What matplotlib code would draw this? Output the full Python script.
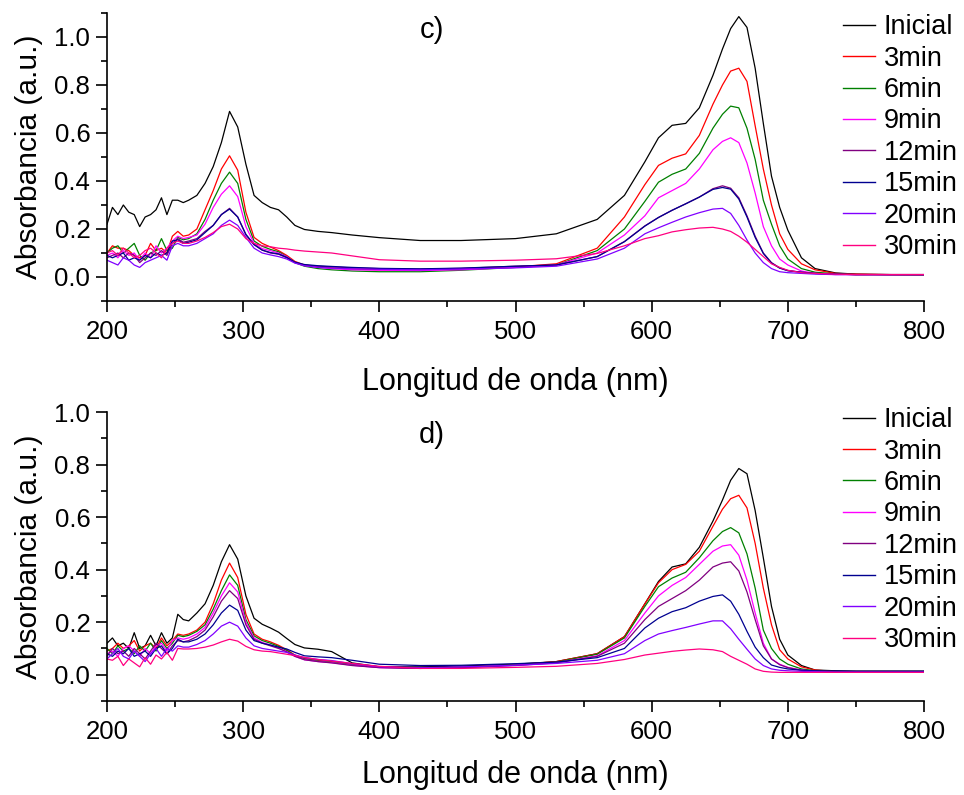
import matplotlib
matplotlib.use("Agg")
import matplotlib.pyplot as plt
from matplotlib.ticker import MultipleLocator

plt.rcParams['font.family'] = ['Liberation Sans', 'DejaVu Sans']

wl = [200, 204, 208, 212, 216, 220, 224, 228, 232, 236, 240, 244, 248,
      252, 256, 260, 266, 272, 278, 284, 290, 296, 302, 308, 314, 320, 326, 332, 338,
      345, 355, 365, 380, 400, 430, 460, 500, 530, 560, 580, 595,
      605, 615, 625, 635, 645, 652, 658, 664, 670, 676, 682, 688, 694, 700,
      710, 720, 735, 750, 775, 800]

labels = ["Inicial", "3min", "6min", "9min", "12min", "15min", "20min", "30min"]
colors = ["#000000", "#ff0000", "#008000", "#ff00ff", "#800080", "#000090", "#8000ff", "#ff0080"]

# ---- panel c) ----
c_inicial = [0.22, 0.29, 0.26, 0.30, 0.27, 0.26, 0.21, 0.25, 0.26, 0.28, 0.33, 0.26, 0.32,
             0.32, 0.31, 0.32, 0.34, 0.39, 0.46, 0.56, 0.69, 0.625, 0.47, 0.34, 0.31, 0.29, 0.28, 0.25, 0.215,
             0.198, 0.19, 0.185, 0.175, 0.164, 0.152, 0.152, 0.16, 0.18, 0.24, 0.34, 0.48,
             0.58, 0.632, 0.64, 0.705, 0.84, 0.95, 1.035, 1.085, 1.04, 0.87, 0.64, 0.42, 0.29, 0.195,
             0.08, 0.035, 0.017, 0.012, 0.01, 0.01]
c_3min = [0.10, 0.13, 0.12, 0.12, 0.11, 0.09, 0.08, 0.09, 0.14, 0.11, 0.12, 0.10, 0.17,
          0.19, 0.17, 0.175, 0.20, 0.28, 0.36, 0.45, 0.505, 0.445, 0.27, 0.165, 0.14, 0.125, 0.11, 0.09, 0.065,
          0.05, 0.042, 0.038, 0.033, 0.03, 0.03, 0.033, 0.042, 0.055, 0.12, 0.25, 0.385,
          0.465, 0.495, 0.513, 0.59, 0.72, 0.80, 0.858, 0.87, 0.815, 0.63, 0.45, 0.30, 0.18, 0.115,
          0.055, 0.03, 0.015, 0.012, 0.01, 0.01]
c_6min = [0.10, 0.12, 0.13, 0.10, 0.12, 0.14, 0.09, 0.07, 0.10, 0.11, 0.16, 0.11, 0.12,
          0.165, 0.155, 0.16, 0.18, 0.24, 0.32, 0.39, 0.437, 0.39, 0.24, 0.15, 0.128, 0.115, 0.105, 0.085, 0.06,
          0.045, 0.035, 0.03, 0.025, 0.022, 0.022, 0.028, 0.04, 0.05, 0.11, 0.20, 0.315,
          0.395, 0.428, 0.45, 0.515, 0.62, 0.678, 0.712, 0.705, 0.62, 0.49, 0.32, 0.22, 0.13, 0.075,
          0.035, 0.02, 0.013, 0.01, 0.01, 0.008]
c_9min = [0.09, 0.10, 0.08, 0.11, 0.09, 0.10, 0.07, 0.10, 0.08, 0.13, 0.10, 0.12, 0.15,
          0.17, 0.16, 0.165, 0.175, 0.22, 0.29, 0.345, 0.38, 0.335, 0.21, 0.14, 0.118, 0.11, 0.10, 0.085, 0.06,
          0.048, 0.04, 0.035, 0.03, 0.028, 0.027, 0.03, 0.04, 0.05, 0.10, 0.175, 0.255,
          0.33, 0.36, 0.39, 0.45, 0.53, 0.565, 0.58, 0.56, 0.475, 0.35, 0.21, 0.13, 0.075, 0.05,
          0.025, 0.015, 0.01, 0.01, 0.01, 0.01]
c_12min = [0.08, 0.09, 0.10, 0.08, 0.10, 0.09, 0.06, 0.08, 0.10, 0.09, 0.11, 0.09, 0.14,
           0.16, 0.145, 0.15, 0.16, 0.19, 0.215, 0.26, 0.286, 0.25, 0.175, 0.135, 0.112, 0.10, 0.095, 0.08, 0.06,
           0.05, 0.045, 0.042, 0.038, 0.035, 0.033, 0.036, 0.045, 0.05, 0.085, 0.148, 0.213,
           0.248, 0.278, 0.305, 0.333, 0.368, 0.38, 0.37, 0.33, 0.255, 0.17, 0.10, 0.06, 0.038, 0.027,
           0.02, 0.015, 0.012, 0.01, 0.01, 0.01]
c_15min = [0.09, 0.08, 0.09, 0.10, 0.07, 0.08, 0.07, 0.09, 0.08, 0.10, 0.09, 0.10, 0.15,
           0.155, 0.14, 0.145, 0.155, 0.185, 0.215, 0.26, 0.283, 0.25, 0.178, 0.135, 0.112, 0.102, 0.096, 0.082, 0.062,
           0.052, 0.047, 0.044, 0.04, 0.036, 0.034, 0.037, 0.045, 0.05, 0.085, 0.147, 0.212,
           0.248, 0.278, 0.305, 0.333, 0.365, 0.373, 0.366, 0.325, 0.25, 0.165, 0.098, 0.058, 0.037, 0.026,
           0.02, 0.015, 0.012, 0.01, 0.01, 0.01]
c_20min = [0.07, 0.06, 0.05, 0.08, 0.07, 0.05, 0.04, 0.06, 0.07, 0.08, 0.09, 0.07, 0.13,
           0.14, 0.13, 0.13, 0.14, 0.16, 0.18, 0.215, 0.237, 0.215, 0.165, 0.12, 0.10, 0.092, 0.085, 0.075, 0.058,
           0.047, 0.04, 0.037, 0.034, 0.032, 0.03, 0.033, 0.038, 0.045, 0.075, 0.12, 0.18,
           0.205, 0.228, 0.25, 0.268, 0.283, 0.286, 0.265, 0.215, 0.154, 0.10, 0.06, 0.035, 0.022, 0.018,
           0.015, 0.012, 0.01, 0.01, 0.01, 0.01]
c_30min = [0.10, 0.11, 0.09, 0.12, 0.10, 0.08, 0.09, 0.11, 0.12, 0.10, 0.08, 0.12, 0.14,
           0.15, 0.14, 0.14, 0.15, 0.165, 0.185, 0.21, 0.22, 0.20, 0.16, 0.14, 0.13, 0.126, 0.12, 0.117, 0.112,
           0.108, 0.104, 0.10, 0.088, 0.072, 0.066, 0.066, 0.07, 0.076, 0.098, 0.13, 0.16,
           0.172, 0.188, 0.197, 0.204, 0.207, 0.20, 0.19, 0.17, 0.145, 0.115, 0.085, 0.055, 0.04, 0.028,
           0.018, 0.015, 0.012, 0.01, 0.01, 0.01]

# ---- panel d) ----
d_inicial = [0.12, 0.14, 0.11, 0.12, 0.10, 0.16, 0.10, 0.11, 0.15, 0.11, 0.16, 0.12, 0.14,
             0.23, 0.21, 0.205, 0.235, 0.27, 0.34, 0.43, 0.495, 0.44, 0.30, 0.215, 0.192, 0.178, 0.162, 0.138, 0.115,
             0.102, 0.097, 0.088, 0.045, 0.03, 0.03, 0.033, 0.04, 0.05, 0.08, 0.145, 0.27,
             0.355, 0.41, 0.422, 0.485, 0.585, 0.665, 0.74, 0.785, 0.765, 0.625, 0.445, 0.26, 0.135, 0.075,
             0.035, 0.018, 0.015, 0.014, 0.014, 0.014]
d_3min = [0.09, 0.10, 0.12, 0.10, 0.11, 0.13, 0.09, 0.11, 0.12, 0.10, 0.14, 0.11, 0.13,
          0.155, 0.15, 0.155, 0.17, 0.20, 0.27, 0.36, 0.425, 0.37, 0.23, 0.155, 0.135, 0.125, 0.112, 0.095, 0.075,
          0.062, 0.055, 0.05, 0.04, 0.03, 0.025, 0.028, 0.038, 0.05, 0.08, 0.145, 0.27,
          0.35, 0.40, 0.42, 0.47, 0.565, 0.63, 0.67, 0.683, 0.635, 0.50, 0.33, 0.19, 0.095, 0.06,
          0.03, 0.018, 0.012, 0.01, 0.01, 0.01]
d_6min = [0.10, 0.08, 0.11, 0.09, 0.10, 0.08, 0.11, 0.09, 0.12, 0.09, 0.13, 0.10, 0.12,
          0.15, 0.145, 0.15, 0.165, 0.19, 0.25, 0.32, 0.38, 0.34, 0.21, 0.148, 0.13, 0.12, 0.108, 0.092, 0.073,
          0.06, 0.052, 0.048, 0.038, 0.028, 0.025, 0.028, 0.038, 0.048, 0.078, 0.14, 0.26,
          0.335, 0.368, 0.39, 0.445, 0.51, 0.545, 0.56, 0.54, 0.46, 0.33, 0.17, 0.10, 0.06, 0.04,
          0.022, 0.015, 0.012, 0.01, 0.01, 0.01]
d_9min = [0.08, 0.09, 0.07, 0.10, 0.11, 0.09, 0.07, 0.10, 0.08, 0.11, 0.12, 0.09, 0.13,
          0.14, 0.135, 0.14, 0.155, 0.18, 0.235, 0.30, 0.35, 0.315, 0.20, 0.14, 0.123, 0.113, 0.102, 0.088, 0.07,
          0.057, 0.05, 0.046, 0.036, 0.027, 0.024, 0.027, 0.036, 0.046, 0.072, 0.13, 0.235,
          0.30, 0.34, 0.37, 0.42, 0.47, 0.49, 0.495, 0.455, 0.36, 0.235, 0.12, 0.06, 0.04, 0.028,
          0.018, 0.013, 0.01, 0.01, 0.01, 0.01]
d_12min = [0.07, 0.10, 0.08, 0.09, 0.07, 0.10, 0.08, 0.06, 0.09, 0.12, 0.10, 0.08, 0.11,
           0.13, 0.125, 0.13, 0.145, 0.17, 0.22, 0.28, 0.32, 0.29, 0.19, 0.135, 0.12, 0.11, 0.10, 0.087, 0.07,
           0.057, 0.05, 0.045, 0.035, 0.027, 0.024, 0.027, 0.035, 0.045, 0.07, 0.12, 0.21,
           0.26, 0.29, 0.32, 0.36, 0.41, 0.425, 0.43, 0.395, 0.315, 0.21, 0.11, 0.06, 0.038, 0.027,
           0.017, 0.013, 0.01, 0.01, 0.01, 0.01]
d_15min = [0.08, 0.07, 0.09, 0.08, 0.10, 0.07, 0.08, 0.09, 0.07, 0.10, 0.11, 0.08, 0.10,
           0.135, 0.125, 0.125, 0.135, 0.155, 0.19, 0.235, 0.265, 0.245, 0.17, 0.13, 0.12, 0.113, 0.105, 0.098, 0.085,
           0.072, 0.068, 0.065, 0.055, 0.04, 0.035, 0.036, 0.042, 0.048, 0.065, 0.10, 0.178,
           0.215, 0.24, 0.255, 0.28, 0.298, 0.304, 0.28, 0.23, 0.165, 0.105, 0.065, 0.037, 0.028, 0.022,
           0.017, 0.015, 0.014, 0.013, 0.013, 0.013]
d_20min = [0.06, 0.08, 0.10, 0.07, 0.06, 0.09, 0.07, 0.05, 0.08, 0.10, 0.07, 0.10, 0.09,
           0.11, 0.105, 0.105, 0.115, 0.13, 0.155, 0.185, 0.20, 0.185, 0.14, 0.11, 0.10, 0.095, 0.09, 0.085, 0.075,
           0.065, 0.058, 0.054, 0.042, 0.03, 0.027, 0.03, 0.036, 0.043, 0.055, 0.08, 0.13,
           0.155, 0.168, 0.18, 0.193, 0.205, 0.205, 0.175, 0.135, 0.097, 0.06, 0.035, 0.022, 0.017, 0.015,
           0.013, 0.012, 0.01, 0.01, 0.01, 0.01]
d_30min = [0.06, 0.055, 0.07, 0.035, 0.06, 0.045, 0.03, 0.065, 0.04, 0.075, 0.06, 0.085, 0.055,
           0.10, 0.098, 0.098, 0.10, 0.105, 0.113, 0.125, 0.135, 0.128, 0.108, 0.095, 0.09, 0.088, 0.083, 0.078, 0.073,
           0.066, 0.058, 0.052, 0.043, 0.032, 0.024, 0.024, 0.028, 0.032, 0.043, 0.058, 0.075,
           0.082, 0.089, 0.094, 0.098, 0.095, 0.088, 0.07, 0.055, 0.04, 0.022, 0.013, 0.01, 0.009, 0.009,
           0.009, 0.009, 0.009, 0.009, 0.009, 0.009]

panel_c = [c_inicial, c_3min, c_6min, c_9min, c_12min, c_15min, c_20min, c_30min]
panel_d = [d_inicial, d_3min, d_6min, d_9min, d_12min, d_15min, d_20min, d_30min]

fig = plt.figure(figsize=(9.64, 7.95), dpi=100)
ax_c = fig.add_axes([107/964, 1 - 301/795, 817/964, 288/795])
ax_d = fig.add_axes([107/964, 1 - 701/795, 817/964, 289/795])


def style(ax, series, ylim, tag, tag_y, leg_top, xlabelpad):
    for vals, lab, col in zip(series, labels, colors):
        ax.plot(wl, vals, color=col, lw=0.9, label=lab)
    ax.set_xlim(200, 800)
    ax.set_ylim(*ylim)
    ax.spines['top'].set_visible(False)
    ax.spines['right'].set_visible(False)
    for s in ('left', 'bottom'):
        ax.spines[s].set_linewidth(1.2)
    ax.xaxis.set_major_locator(MultipleLocator(100))
    ax.xaxis.set_minor_locator(MultipleLocator(50))
    ax.yaxis.set_minor_locator(MultipleLocator(0.1))
    ax.set_yticks([0.0, 0.2, 0.4, 0.6, 0.8, 1.0])
    ax.set_yticklabels(["0.0", "0.2", "0.4", "0.6", "0.8", "1.0"])
    ax.tick_params(which='major', direction='out', length=8, width=1.2, labelsize=18.5, pad=4)
    ax.tick_params(axis='x', which='major', pad=6)
    ax.tick_params(which='minor', direction='out', length=4, width=1.2)
    ax.set_xlabel("Longitud de onda (nm)", fontsize=22, labelpad=xlabelpad)
    ax.set_ylabel("Absorbancia (a.u.)", fontsize=21.5, labelpad=8)
    ax.text(0.398, tag_y, tag, transform=ax.transAxes, fontsize=21, ha='center', va='center')
    leg = ax.legend(loc='upper left', bbox_to_anchor=(736/817, leg_top), frameon=False,
                    fontsize=19.5, handlelength=1.2, handletextpad=0.3, labelspacing=0.2,
                    borderpad=0, borderaxespad=0)
    for h in leg.get_lines():
        h.set_linewidth(1.0)


style(ax_c, panel_c, (-0.1, 1.1), "c)", 0.94, 0.996, 16)
style(ax_d, panel_d, (-0.1, 1.0), "d)", 0.92, 1.017, 11)

fig.savefig("out.png", dpi=100)
